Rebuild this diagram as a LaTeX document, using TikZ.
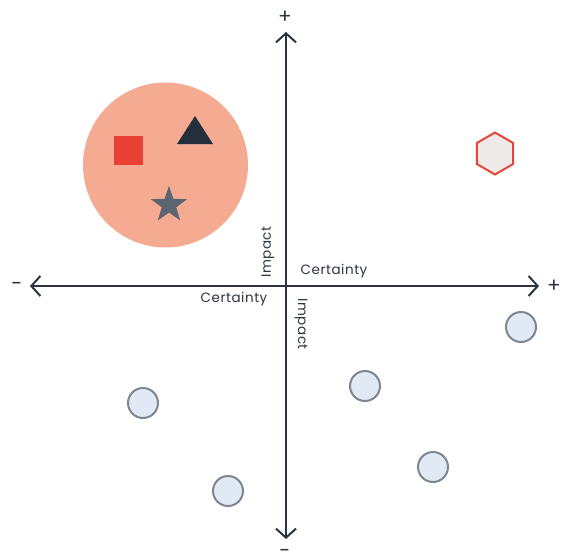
\documentclass[tikz,border=0pt]{standalone}
\usepackage{fontspec}
\setmainfont{Poppins}
\usetikzlibrary{arrows.meta,shapes.geometric}
\definecolor{axis}{HTML}{2B3440}
\definecolor{blob}{HTML}{F5AA92}
\definecolor{sqred}{HTML}{E84034}
\definecolor{tri}{HTML}{232F3B}
\definecolor{starc}{HTML}{5B6470}
\definecolor{hexfill}{HTML}{EEEAEA}
\definecolor{hexline}{HTML}{E8453A}
\definecolor{dotfill}{HTML}{E1EAF4}
\definecolor{dotline}{HTML}{7E8692}
\tikzset{
  axisline/.style={draw=axis,line width=2pt,-{Straight Barb[length=9pt,width=20pt,line width=2pt]}},
  lbl/.style={font=\fontsize{13.5}{15}\selectfont\addfontfeature{LetterSpace=4},text=axis,inner sep=0pt},
  sign/.style={font=\fontsize{20}{22}\selectfont,text=axis,inner sep=0pt},
  dot/.style={circle,draw=dotline,fill=dotfill,line width=2pt,minimum size=30pt,inner sep=0pt},
}
\begin{document}
\begin{tikzpicture}[x=1pt,y=-1pt]
\useasboundingbox (0,0) rectangle (563,558);
\coordinate (c) at (286,286);
\coordinate (top) at (286,32);
\coordinate (bot) at (286,539);
\coordinate (lft) at (30,286);
\coordinate (rgt) at (539,286);
\node[circle,fill=blob,minimum size=165pt,inner sep=0pt] (cluster) at (165.5,165) {};
\node[rectangle,fill=sqred,minimum size=29pt,inner sep=0pt] (sq) at (128.5,150.5) {};
\fill[tri] (195,116) -- (213,144) -- (177,144) -- cycle;
\node[star,star points=5,star point ratio=2.5,fill=starc,minimum size=38pt,inner sep=0pt] (st) at (169,205) {};
\node[regular polygon,regular polygon sides=6,shape border rotate=30,draw=hexline,fill=hexfill,line width=2pt,minimum size=42pt,inner sep=0pt] (hex) at (495,153.5) {};
\draw[axisline] (c) -- (top);
\draw[axisline] (c) -- (bot);
\draw[axisline] (c) -- (lft);
\draw[axisline] (c) -- (rgt);
\node[sign] (plustop) at (285,17) {+};
\node[sign,anchor=south] (minusbot) at (285,558) {-};
\node[sign] (minusl) at (17,286) {-};
\node[sign] (plusr) at (554,286) {+};
\node[lbl] (cert1) at (334,271) {Certainty};
\node[lbl] (cert2) at (234,299) {Certainty};
\node[lbl,rotate=90] (imp1) at (268,252) {Impact};
\node[lbl,rotate=-90] (imp2) at (301,324) {Impact};
\node[dot] (d1) at (521,327) {};
\node[dot] (d2) at (365,386) {};
\node[dot] (d3) at (143,403) {};
\node[dot] (d4) at (433,467) {};
\node[dot] (d5) at (228,491) {};
\end{tikzpicture}
\end{document}
